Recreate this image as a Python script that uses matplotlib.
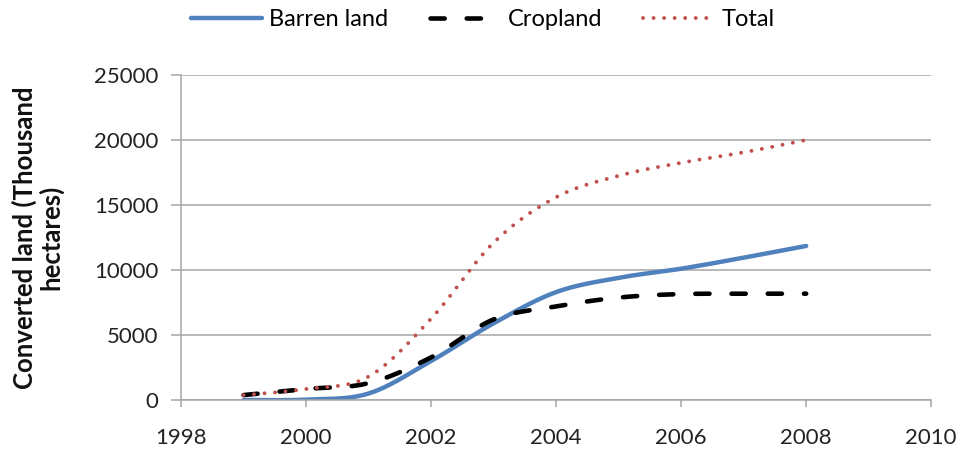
import numpy as np
import matplotlib
matplotlib.use("Agg")
import matplotlib.pyplot as plt

years = [1999, 2000, 2001, 2002, 2003, 2004, 2005, 2006, 2007, 2008]
barren = [0, 30, 500, 3000, 5900, 8300, 9400, 10100, 10950, 11850]
cropland = [380, 850, 1300, 3280, 6200, 7200, 7880, 8150, 8170, 8180]
total = [380, 850, 1800, 6250, 12100, 15600, 17250, 18250, 19050, 20000]


def smooth(x, y, n=40):
    # Catmull-Rom style Bezier smoothing (like spreadsheet "smoothed line")
    x = np.asarray(x, float)
    y = np.asarray(y, float)
    px = np.concatenate([[x[0]], x, [x[-1]]])
    py = np.concatenate([[y[0]], y, [y[-1]]])
    xs, ys = [], []
    for i in range(1, len(px) - 2):
        p0 = np.array([px[i - 1], py[i - 1]])
        p1 = np.array([px[i], py[i]])
        p2 = np.array([px[i + 1], py[i + 1]])
        p3 = np.array([px[i + 2], py[i + 2]])
        c1 = p1 + (p2 - p0) / 6.0
        c2 = p2 - (p3 - p1) / 6.0
        t = np.linspace(0, 1, n)[:, None]
        pts = ((1 - t) ** 3) * p1 + 3 * ((1 - t) ** 2) * t * c1 + 3 * (1 - t) * t ** 2 * c2 + t ** 3 * p2
        if i > 1:
            pts = pts[1:]
        xs.extend(pts[:, 0])
        ys.extend(pts[:, 1])
    return np.array(xs), np.array(ys)


plt.rcParams['font.family'] = ['Lato', 'DejaVu Sans']

fig = plt.figure(figsize=(9.6, 4.54), dpi=100)
ax = fig.add_axes([0.1885, 0.1189, 0.7815, 0.7159])

grid_c = '#a6a6a6'
ax.set_xlim(1998, 2010)
ax.set_ylim(0, 25000)
ax.set_xticks(range(1998, 2011, 2))
ax.set_yticks(range(0, 25001, 5000))
ax.yaxis.grid(True, color=grid_c, linewidth=1.1)
ax.set_axisbelow(True)
for s in ['top', 'right']:
    ax.spines[s].set_visible(False)
for s in ['left', 'bottom']:
    ax.spines[s].set_color(grid_c)
    ax.spines[s].set_linewidth(1.1)
ax.tick_params(axis='both', colors=grid_c, width=1.1, labelsize=16,
               labelcolor='#222222')
ax.tick_params(axis='y', length=7, pad=9)
ax.tick_params(axis='x', length=5, pad=15)

bx, by = smooth(years, barren)
cx, cy = smooth(years, cropland)
tx, ty = smooth(years, total)

l1, = ax.plot(bx, by, color='#4f81bd', linewidth=3.2, solid_capstyle='round', label='Barren land')
l2, = ax.plot(cx, cy, color='black', linewidth=3.3, dashes=(3.1, 4.8), dash_capstyle='round',
              label='Cropland')
l3, = ax.plot(tx, ty, color='#c0504d', linewidth=2.8, dashes=(0.01, 2.7), dash_capstyle='round',
              label='Total')

ax.set_ylabel('Converted land (Thousand\nhectares)', fontsize=18.5, fontweight='bold',
              color='#111111', labelpad=22, linespacing=1.05, multialignment='center')

fig.legend(handles=[l1, l2, l3], loc='center', bbox_to_anchor=(0.503, 0.956), ncol=3,
           frameon=False, fontsize=17, handlelength=3.0, columnspacing=1.75,
           handletextpad=0.3)

fig.savefig('out.png', dpi=100)
